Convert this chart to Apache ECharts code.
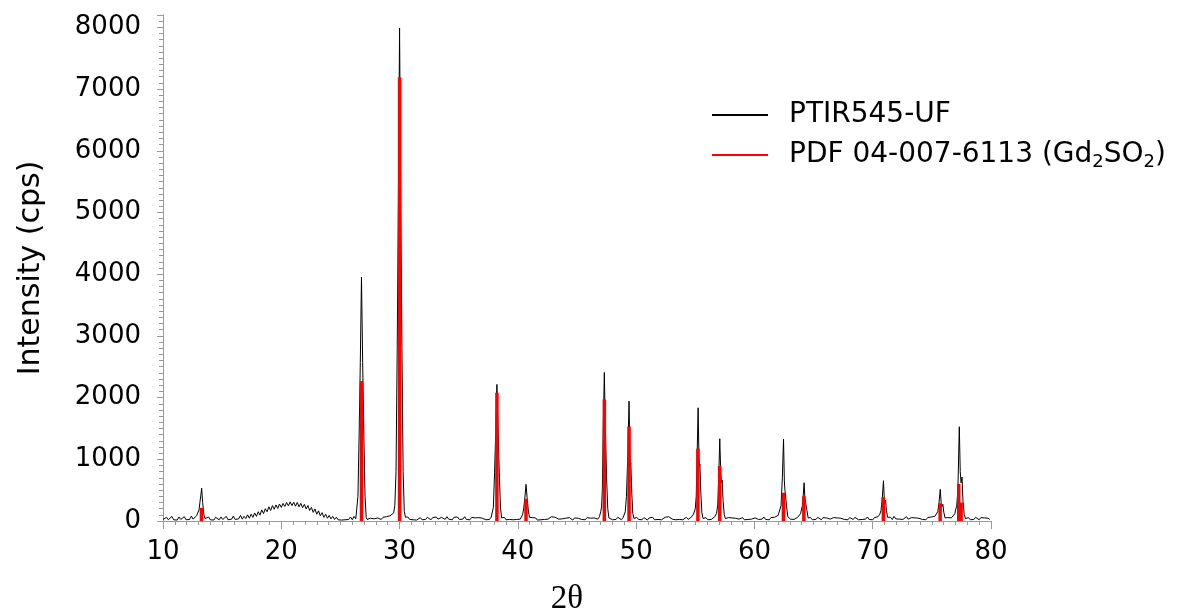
<!DOCTYPE html>
<html><head><meta charset="utf-8">
<script src="https://cdn.jsdelivr.net/npm/echarts@6/dist/echarts.min.js"></script>
<style>html,body{margin:0;padding:0;background:#fff}#c{width:1180px;height:611px}</style>
</head><body><div id="c"></div>
<script>
const seriesNames = ['PTIR545-UF', 'PDF 04-007-6113 (Gd2SO2)'];
const xAxisTitle = '2θ';
const yAxisTitle = 'Intensity (cps)';
const xRange = [10, 80, 10];
const yRange = [0, 8200, 1000];

// measured pattern: [2theta, counts]
const measured = [
[10.0,25],[10.15,15],[10.3,60],[10.45,20],[10.6,30],[10.75,75],[10.9,20],[11.05,35],[11.2,15],[11.35,65],[11.5,25],[11.65,30],[11.8,70],[11.95,20],[12.1,35],[12.25,25],[12.4,80],[12.55,30],[12.7,45],[12.85,90],[12.95,100],
[13.05,180],[13.12,300],[13.2,420],[13.27,530],[13.35,300],[13.45,110],[13.55,40],
[13.7,25],[13.85,65],[14.0,20],[14.15,35],[14.3,15],[14.45,60],[14.6,30],[14.75,20],[14.9,65],[15.05,25],[15.2,35],[15.35,75],[15.5,20],[15.65,40],[15.8,30],[15.95,80],[16.1,25],[16.25,45],[16.4,35],[16.55,90],[16.7,30],[16.85,75],[17.0,40],[17.15,100],[17.3,45],
[17.45,110],[17.6,60],[17.75,130],[17.9,75],[18.05,150],[18.2,95],[18.35,180],[18.5,120],[18.65,200],[18.8,150],[18.95,230],[19.1,170],[19.25,250],[19.4,190],[19.55,260],[19.7,205],[19.85,275],[20.0,220],[20.15,285],[20.3,235],[20.45,300],[20.6,245],[20.75,310],[20.9,250],[21.05,305],[21.2,240],[21.35,300],[21.5,230],[21.65,285],[21.8,215],[21.95,270],[22.1,195],[22.25,250],[22.4,170],[22.55,220],[22.7,140],[22.85,195],[23.0,110],[23.15,165],[23.3,85],[23.45,135],[23.6,60],[23.75,110],[23.9,45],[24.05,90],[24.2,35],[24.35,75],[24.5,25],
[24.65,60],[24.8,20],[24.95,50],[25.1,15],[25.25,45],[25.4,20],[25.55,10],[25.7,25],[25.85,65],[26.0,20],[26.15,75],[26.3,35],
[26.38,60],[26.48,400],[26.58,1380],[26.68,2570],[26.78,3950],[26.88,2570],[26.98,1380],[27.08,400],[27.18,60],
[27.25,25],[27.4,15],[27.55,45],[27.7,20],[27.85,35],[28.0,15],[28.15,50],[28.3,20],[28.45,25],[28.6,60],[28.75,30],[28.9,70],[29.05,45],
[29.2,85],[29.35,110],[29.5,130],[29.6,250],[29.7,800],[29.8,2800],[29.9,5200],[30.0,7990],[30.1,5200],[30.2,2800],[30.3,800],[30.4,150],[30.5,60],
[30.7,65],[30.85,25],[31.0,55],[31.15,20],[31.3,45],[31.45,15],[31.6,25],[31.75,55],[31.9,20],[32.05,45],[32.2,25],[32.35,60],[32.5,30],[32.65,20],[32.8,55],[32.95,25],[33.1,65],[33.25,30],[33.4,20],[33.55,60],[33.7,35],[33.85,25],[34.0,70],[34.15,30],[34.3,55],[34.45,20],[34.6,60],[34.75,30],[34.9,65],[35.05,25],[35.2,55],[35.35,30],[35.5,70],[35.65,25],[35.8,55],[35.95,20],[36.1,60],[36.25,30],[36.4,50],[36.55,20],[36.7,55],[36.85,25],[37.0,45],[37.15,60],[37.3,20],[37.45,50],[37.6,25],[37.75,65],
[37.85,60],[37.93,220],[38.03,780],[38.13,1440],[38.23,2213],[38.33,1440],[38.43,780],[38.53,220],[38.63,50],
[38.7,30],[38.85,60],[39.0,20],[39.15,50],[39.3,25],[39.45,55],[39.6,20],[39.75,45],[39.9,25],[40.05,50],[40.2,30],
[40.3,60],[40.4,100],[40.5,210],[40.6,390],[40.69,594],[40.78,380],[40.88,180],[40.98,60],
[41.05,30],[41.2,55],[41.35,25],[41.5,50],[41.65,15],[41.8,45],[41.95,20],[42.1,50],[42.25,25],[42.4,55],[42.55,30],[42.7,60],[42.85,70],[43.0,75],[43.15,60],[43.3,50],[43.45,30],[43.6,55],[43.75,35],[43.9,15],[44.05,45],[44.2,20],[44.35,55],[44.5,25],[44.65,15],[44.8,50],[44.95,20],[45.1,45],[45.25,60],[45.4,25],[45.55,50],[45.7,20],[45.85,55],[46.0,25],[46.15,45],[46.3,20],[46.45,50],[46.6,60],[46.75,30],
[46.9,70],[47.0,150],[47.08,230],[47.14,500],[47.22,1500],[47.31,2407],[47.4,1500],[47.5,700],[47.6,200],[47.7,50],
[47.85,55],[48.0,20],[48.15,50],[48.3,25],[48.45,60],[48.6,30],[48.75,20],[48.9,55],
[49.0,80],[49.08,150],[49.18,400],[49.3,1100],[49.40,1943],[49.47,1100],[49.51,900],[49.55,944],[49.63,450],[49.72,120],[49.82,40],
[50.05,60],[50.2,25],[50.35,50],[50.5,20],[50.65,55],[50.8,30],[50.95,15],[51.1,50],[51.25,25],[51.4,60],[51.55,20],[51.7,45],[51.85,25],[52.0,55],[52.15,20],[52.3,50],[52.45,60],[52.6,30],[52.75,70],[52.9,40],[53.05,30],[53.2,60],[53.35,20],[53.5,50],[53.65,25],[53.8,55],[53.95,20],[54.1,45],[54.25,60],[54.4,25],[54.55,55],[54.7,70],
[54.85,110],[55.0,200],[55.08,400],[55.16,1100],[55.24,1835],[55.31,1050],[55.35,880],[55.39,923],[55.47,450],[55.56,130],[55.66,40],
[55.9,55],[56.05,20],[56.2,50],[56.35,25],[56.5,45],[56.65,70],
[56.8,125],[56.9,260],[56.98,700],[57.07,1333],[57.15,800],[57.21,620],[57.27,664],[57.35,330],[57.45,100],[57.55,40],
[57.65,30],[57.8,55],[57.95,25],[58.1,50],[58.25,20],[58.4,45],[58.55,60],[58.7,30],[58.85,25],[59.0,55],[59.15,20],[59.3,50],[59.45,25],[59.6,55],[59.75,30],[59.9,20],[60.05,50],[60.2,60],[60.35,25],[60.5,55],[60.65,30],[60.8,65],[60.95,25],[61.1,50],[61.25,20],[61.4,55],[61.55,30],[61.7,60],[61.85,70],[62.0,90],
[62.15,110],[62.25,250],[62.36,700],[62.46,1328],[62.53,650],[62.58,500],[62.63,529],[62.72,230],[62.82,70],
[62.9,40],[63.05,30],[63.2,60],[63.35,25],[63.5,50],[63.65,60],[63.8,90],[63.9,120],
[63.98,120],[64.06,250],[64.13,420],[64.2,620],[64.27,360],[64.31,330],[64.36,367],[64.44,170],[64.54,50],
[64.62,30],[64.75,55],[64.9,20],[65.05,50],[65.2,25],[65.35,60],[65.5,30],[65.65,20],[65.8,55],[65.95,25],[66.1,50],[66.25,65],[66.4,30],[66.55,20],[66.7,55],[66.85,25],[67.0,50],[67.15,20],[67.3,45],[67.45,60],[67.6,25],[67.75,50],[67.9,20],[68.05,55],[68.2,30],[68.35,25],[68.5,60],[68.65,30],[68.8,20],[68.95,50],[69.1,25],[69.25,55],[69.4,30],[69.55,65],[69.7,25],[69.85,50],[70.0,20],[70.15,55],[70.3,30],[70.45,70],
[70.6,110],[70.7,170],[70.8,350],[70.91,653],[70.98,340],[71.03,300],[71.08,340],[71.16,170],[71.26,60],
[71.35,35],[71.5,60],[71.65,25],[71.8,75],[71.95,35],[72.1,65],[72.25,30],[72.4,60],[72.55,25],[72.7,55],[72.85,70],[73.0,30],[73.15,20],[73.3,55],[73.45,25],[73.6,50],[73.75,20],[73.9,45],[74.05,60],[74.2,25],[74.35,50],[74.5,20],[74.65,55],[74.8,30],[74.95,65],[75.1,35],[75.25,75],
[75.4,90],[75.5,150],[75.6,290],[75.71,513],[75.79,280],[75.86,235],[75.93,270],[76.01,140],[76.12,50],
[76.2,30],[76.35,55],[76.5,25],[76.65,50],[76.8,70],[76.95,120],
[77.0,180],[77.1,240],[77.2,500],[77.32,1527],[77.4,800],[77.47,620],[77.55,712],[77.63,330],[77.73,110],[77.85,40],
[77.95,30],[78.1,55],[78.25,20],[78.4,50],[78.55,25],[78.7,60],[78.85,30],[79.0,20],[79.15,55],[79.3,25],[79.45,50],[79.6,20],[79.75,45],[79.9,25]
];

// reference stick pattern
const refPos = [13.25, 26.78, 30.0, 38.23, 40.69, 47.31, 49.40, 55.22, 57.06, 62.45, 64.18, 70.90, 75.70, 77.27, 77.47];
const refInt = [215, 2270, 7190, 2077, 360, 1970, 1533, 1171, 890, 459, 400, 383, 286, 599, 300];

const sticks = [];
refPos.forEach((p, i) => { sticks.push([p, 0], [p, refInt[i]], [p, '-']); });

const axisGray = '#9a9a9a';
const chart = echarts.init(document.getElementById('c'), null, {renderer: 'canvas'});
chart.setOption({
  animation: false,
  backgroundColor: '#ffffff',
  grid: {left: 163, right: 189, top: 15, bottom: 90, containLabel: false, outerBoundsMode: 'none'},
  legend: {
    orient: 'vertical', left: 712, top: 101, padding: 0, itemGap: 10,
    itemWidth: 56, itemHeight: 2, icon: 'rect',
    data: [{name: seriesNames[0], itemStyle: {color: '#000'}}, {name: seriesNames[1], itemStyle: {color: '#ff0000'}}],
    formatter: function (name) {
      if (name === seriesNames[1]) return '{n|PDF 04-007-6113 (Gd}{s|2}{n|SO}{s|2}{n|)}';
      return '{n|' + name + '}';
    },
    textStyle: {
      padding: [0, 0, 0, 16],
      rich: {
        n: {fontFamily: 'DejaVu Sans', fontSize: 28, color: '#000', lineHeight: 30},
        s: {fontFamily: 'DejaVu Sans', fontSize: 18, color: '#000', lineHeight: 30, padding: [14, 0, 0, 0]}
      }
    }
  },
  xAxis: {
    type: 'value', min: xRange[0], max: xRange[1], interval: xRange[2],
    name: xAxisTitle, nameLocation: 'middle', nameGap: 62,
    nameTextStyle: {fontFamily: 'Liberation Serif', fontSize: 33, color: '#000', padding: [0, 20, 0, 0]},
    axisLine: {show: true, onZero: false, lineStyle: {color: axisGray, width: 1}},
    axisTick: {show: true, length: 8, lineStyle: {color: axisGray}},
    minorTick: {show: true, splitNumber: 10, length: 4, lineStyle: {color: axisGray}},
    splitLine: {show: false},
    axisLabel: {fontFamily: 'DejaVu Sans', fontSize: 26, color: '#000', margin: 18}
  },
  yAxis: {
    type: 'value', min: yRange[0], max: yRange[1], interval: yRange[2],
    name: yAxisTitle, nameLocation: 'middle', nameGap: 117, nameRotate: 90,
    nameTextStyle: {fontFamily: 'DejaVu Sans', fontSize: 30, color: '#000'},
    axisLine: {show: true, lineStyle: {color: axisGray, width: 1}},
    axisTick: {show: true, length: 6, lineStyle: {color: axisGray}},
    minorTick: {show: true, splitNumber: 10, length: 4, lineStyle: {color: axisGray}},
    splitLine: {show: false},
    axisLabel: {fontFamily: 'DejaVu Sans', fontSize: 26, color: '#000', margin: 22, showMaxLabel: false,
      formatter: function (v) { return String(v); }}
  },
  series: [
    {name: seriesNames[0], type: 'line', data: measured, showSymbol: false, symbol: 'none',
     lineStyle: {color: '#000', width: 1}, itemStyle: {color: '#000'}, z: 2},
    {name: seriesNames[1], type: 'line', data: sticks, showSymbol: false, symbol: 'none', connectNulls: false,
     lineStyle: {color: '#ff0000', width: 3.5}, itemStyle: {color: '#ff0000'}, z: 3}
  ]
});
</script></body></html>
